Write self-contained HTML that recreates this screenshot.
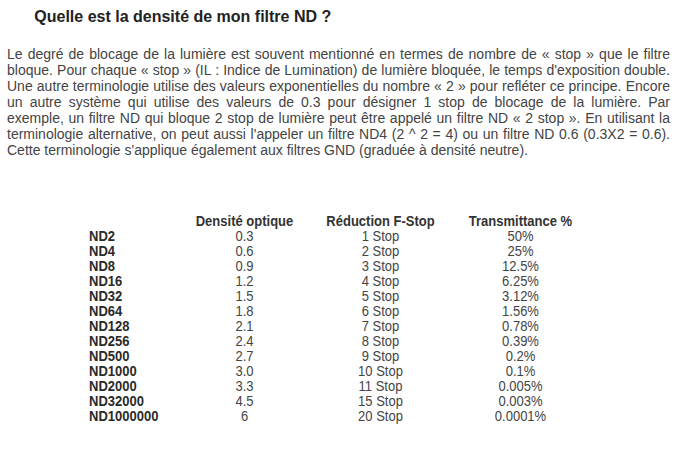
<!DOCTYPE html>
<html><head><meta charset="utf-8">
<style>
html,body{margin:0;padding:0;background:#fff;}
body{width:696px;height:455px;overflow:hidden;position:relative;font-family:"Liberation Sans",sans-serif;color:#333;}
h2{position:absolute;left:34.3px;top:7px;margin:0;font-size:16px;font-weight:bold;color:#222;line-height:20px;}
p{position:absolute;left:7px;top:46px;width:663px;margin:0;font-size:14px;line-height:16px;text-align:justify;color:#444;}
table{position:absolute;left:89px;top:213px;border-collapse:collapse;font-size:13px;color:#444;}
td,th{padding:0;line-height:15px;}
th{font-weight:bold;color:#333;}
td.n{font-weight:bold;text-align:left;width:97px;color:#2a2a2a;}
td.c{text-align:center;}
i{font-style:normal;display:inline-block;transform:scaleY(1.1);transform-origin:0 3px;}
</style></head><body>
<h2>Quelle est la densité de mon filtre ND ?</h2>
<p>Le degré de blocage de la lumière est souvent mentionné en termes de nombre de « stop » que le filtre bloque. Pour chaque « stop » (IL : Indice de Lumination) de lumière bloquée, le temps d'exposition double. Une autre terminologie utilise des valeurs exponentielles du nombre « 2 » pour refléter ce principe. Encore un autre système qui utilise des valeurs de 0.3 pour désigner 1 stop de blocage de la lumière. Par exemple, un filtre ND qui bloque 2 stop de lumière peut être appelé un filtre ND « 2 stop ». En utilisant la terminologie alternative, on peut aussi l'appeler un filtre ND4 (2 ^ 2 = 4) ou un filtre ND 0.6 (0.3X2 = 0.6). Cette terminologie s'applique également aux filtres GND (graduée à densité neutre).</p>
<table>
<tr><th></th><th style="width:117px"><i>Densité optique</i></th><th style="width:155px"><i>Réduction F-Stop</i></th><th style="width:125px"><i>Transmittance %</i></th></tr>
<tr><td class="n"><i>ND2</i></td><td class="c"><i>0.3</i></td><td class="c"><i>1 Stop</i></td><td class="c"><i>50%</i></td></tr>
<tr><td class="n"><i>ND4</i></td><td class="c"><i>0.6</i></td><td class="c"><i>2 Stop</i></td><td class="c"><i>25%</i></td></tr>
<tr><td class="n"><i>ND8</i></td><td class="c"><i>0.9</i></td><td class="c"><i>3 Stop</i></td><td class="c"><i>12.5%</i></td></tr>
<tr><td class="n"><i>ND16</i></td><td class="c"><i>1.2</i></td><td class="c"><i>4 Stop</i></td><td class="c"><i>6.25%</i></td></tr>
<tr><td class="n"><i>ND32</i></td><td class="c"><i>1.5</i></td><td class="c"><i>5 Stop</i></td><td class="c"><i>3.12%</i></td></tr>
<tr><td class="n"><i>ND64</i></td><td class="c"><i>1.8</i></td><td class="c"><i>6 Stop</i></td><td class="c"><i>1.56%</i></td></tr>
<tr><td class="n"><i>ND128</i></td><td class="c"><i>2.1</i></td><td class="c"><i>7 Stop</i></td><td class="c"><i>0.78%</i></td></tr>
<tr><td class="n"><i>ND256</i></td><td class="c"><i>2.4</i></td><td class="c"><i>8 Stop</i></td><td class="c"><i>0.39%</i></td></tr>
<tr><td class="n"><i>ND500</i></td><td class="c"><i>2.7</i></td><td class="c"><i>9 Stop</i></td><td class="c"><i>0.2%</i></td></tr>
<tr><td class="n"><i>ND1000</i></td><td class="c"><i>3.0</i></td><td class="c"><i>10 Stop</i></td><td class="c"><i>0.1%</i></td></tr>
<tr><td class="n"><i>ND2000</i></td><td class="c"><i>3.3</i></td><td class="c"><i>11 Stop</i></td><td class="c"><i>0.005%</i></td></tr>
<tr><td class="n"><i>ND32000</i></td><td class="c"><i>4.5</i></td><td class="c"><i>15 Stop</i></td><td class="c"><i>0.003%</i></td></tr>
<tr><td class="n"><i>ND1000000</i></td><td class="c"><i>6</i></td><td class="c"><i>20 Stop</i></td><td class="c"><i>0.0001%</i></td></tr>
</table>
</body></html>
